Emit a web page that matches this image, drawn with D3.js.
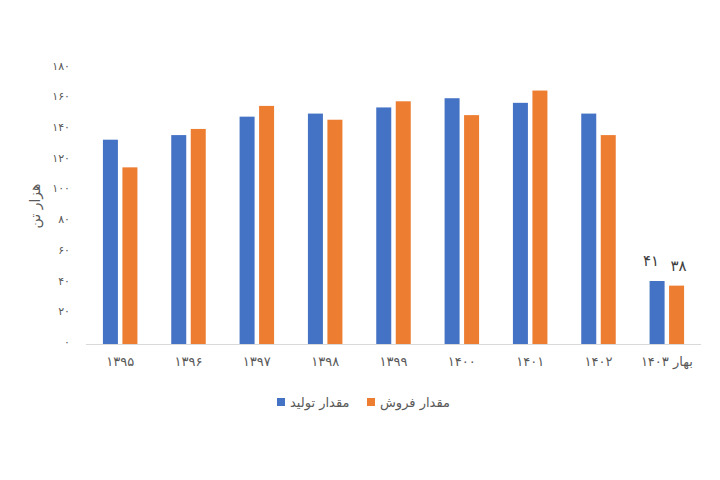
<!DOCTYPE html>
<html>
<head>
<meta charset="utf-8">
<script src="https://cdn.jsdelivr.net/npm/d3@7"></script>
<style>
html,body{margin:0;padding:0;background:#fff;}
svg{display:block;font-family:"DejaVu Sans","Noto Sans",sans-serif;}
</style>
</head>
<body>
<svg id="chart" width="720" height="480"></svg>
<script>
const categories = ["۱۳۹۵","۱۳۹۶","۱۳۹۷","۱۳۹۸","۱۳۹۹","۱۴۰۰","۱۴۰۱","۱۴۰۲","بهار ۱۴۰۳"];
const production = [133,136,148,150,154,160,157,150,41];
const sales = [115,140,155,146,158,149,165,136,38];
const seriesNames = ["مقدار تولید","مقدار فروش"];
const yTicks = [0,20,40,60,80,100,120,140,160,180];
const yTitle = "هزار تن";
const lastLabels = ["۴۱","۳۸"];

const colors = ["#4472C4","#ED7D31"];
const toFa = n => String(n).replace(/\d/g, d => "۰۱۲۳۴۵۶۷۸۹"[d]);

const svg = d3.select("#chart");
const plotLeft = 86, plotRight = 701, plotTop = 67.5, plotBottom = 344;

const x = d3.scaleBand().domain(categories).range([plotLeft, plotRight]).paddingInner(0).paddingOuter(0);
const y = d3.scaleLinear().domain([0,180]).range([plotBottom, plotTop]);
const barW = 15, gap = 4.5;

// baseline
svg.append("line").attr("x1", plotLeft).attr("x2", plotRight).attr("y1", plotBottom + 0.5).attr("y2", plotBottom + 0.5)
  .attr("stroke", "#d9d9d9").attr("stroke-width", 1);

// y axis labels
const yAxis = d3.axisLeft(y).tickValues(yTicks).tickFormat(toFa).tickSize(0).tickPadding(0);
const gy = svg.append("g").attr("transform", `translate(70,-2)`).call(yAxis);
gy.select(".domain").remove();
gy.selectAll("text").attr("fill", "#595959").style("font-size", "11px").style("font-family", '"DejaVu Sans",sans-serif');

// x axis labels
const xAxis = d3.axisBottom(x).tickSize(0).tickPadding(0);
const gx = svg.append("g").attr("transform", `translate(0,357)`).call(xAxis);
gx.select(".domain").remove();
gx.selectAll("text").attr("fill", "#595959").style("font-size", "13px").style("font-family", '"DejaVu Sans",sans-serif');

// bars
const g = svg.append("g");
[production, sales].forEach((series, s) => {
  g.selectAll(".b" + s).data(categories).enter().append("rect")
    .attr("class", "b" + s)
    .attr("x", c => x(c) + x.bandwidth()/2 + (s === 0 ? -gap/2 - barW : gap/2))
    .attr("y", (c, i) => y(series[i]))
    .attr("width", barW)
    .attr("height", (c, i) => plotBottom - y(series[i]))
    .attr("fill", colors[s]);
});

// data labels for last category
const lc = categories[categories.length - 1];
[production, sales].forEach((series, s) => {
  const v = series[series.length - 1];
  svg.append("text")
    .attr("x", x(lc) + x.bandwidth()/2 + (s === 0 ? -gap/2 - barW/2 - 6 : gap/2 + barW/2 + 2))
    .attr("y", y(v) - 15)
    .attr("text-anchor", "middle")
    .attr("fill", "#404040")
    .style("font-size", "15px")
    .text(lastLabels[s]);
});

// y title
svg.append("text")
  .attr("transform", "translate(35,206) rotate(-90)")
  .attr("text-anchor", "middle")
  .attr("dominant-baseline", "central")
  .attr("fill", "#595959")
  .style("font-size", "14px")
  .text(yTitle);

// legend
const legend = [
  {sx: 277, tx: 290, name: seriesNames[0], color: colors[0]},
  {sx: 367, tx: 380, name: seriesNames[1], color: colors[1]}
];
legend.forEach(d => {
  svg.append("rect").attr("x", d.sx).attr("y", 398).attr("width", 8).attr("height", 8).attr("fill", d.color);
  svg.append("text").attr("x", d.tx).attr("y", 402).attr("dominant-baseline", "central")
    .attr("fill", "#595959").style("font-size", "13px").text(d.name);
});
</script>
</body>
</html>
